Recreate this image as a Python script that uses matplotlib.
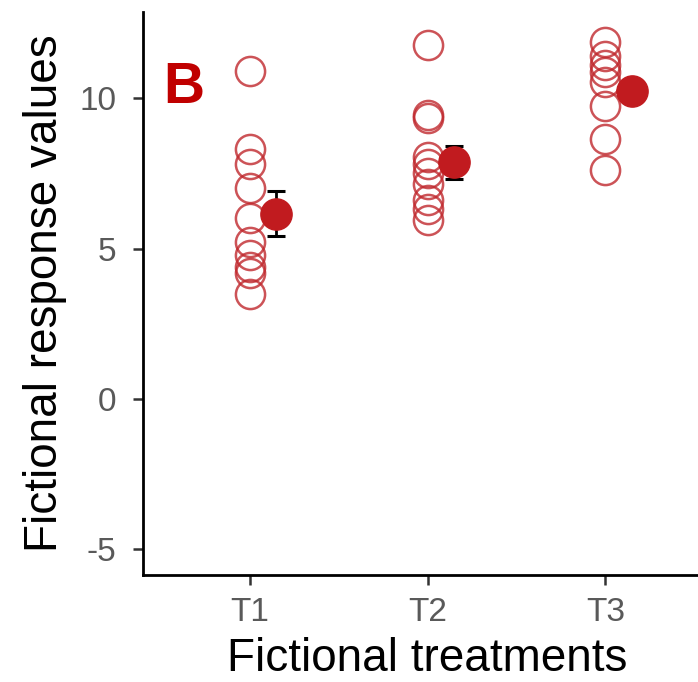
import matplotlib
matplotlib.use("Agg")
import matplotlib.pyplot as plt
import numpy as np

plt.rcParams['font.family'] = ['Liberation Sans', 'DejaVu Sans']

categories = ["T1", "T2", "T3"]
t1_values = [10.9, 8.3, 7.8, 7.0, 6.0, 5.2, 4.8, 4.4, 4.2, 3.5]
t2_values = [11.75, 9.45, 9.35, 8.05, 7.8, 7.5, 7.15, 6.6, 6.3, 5.95]
t3_values = [11.85, 11.4, 11.1, 10.85, 10.55, 9.75, 8.65, 7.6]
means = [6.16, 7.87, 10.22]
errors = [0.74, 0.55, 0.25]
yticks = [-5, 0, 5, 10]
panel_label = "B"

W, H = 698, 682
fig = plt.figure(figsize=(W / 100, H / 100), dpi=100)
left, bottom, top = 143 / W, (H - 575) / H, (H - 12) / H
right = 712 / W
ax = fig.add_axes([left, bottom, right - left, top - bottom])

open_col = '#c0282d'
fill_col = '#c11b1f'
groups = [t1_values, t2_values, t3_values]
for i, vals in enumerate(groups):
    x = np.full(len(vals), i + 1.0)
    ax.plot(x, vals, linestyle='none', marker='o', markersize=21,
            markerfacecolor='none', markeredgecolor=open_col,
            markeredgewidth=1.8, alpha=0.8, zorder=2)

xm = np.arange(1, 4) + 0.15
ax.errorbar(xm, means, yerr=errors, fmt='none', ecolor='black',
            elinewidth=2.0, capsize=6.5, capthick=2.2, zorder=3)
ax.plot(xm, means, linestyle='none', marker='o', markersize=22.5,
        markerfacecolor=fill_col, markeredgecolor=fill_col, zorder=4)

ax.set_xlim(0.4, 3.6)
ax.set_ylim(-5.85, 12.86)
ax.set_xticks([1, 2, 3])
ax.set_xticklabels(categories)
ax.set_yticks(yticks)
ax.set_yticklabels([str(v) for v in yticks])

for s in ['top', 'right']:
    ax.spines[s].set_visible(False)
for s in ['left', 'bottom']:
    ax.spines[s].set_linewidth(2.0)
    ax.spines[s].set_color('black')
ax.tick_params(axis='both', colors='#333333', labelcolor='#595959',
               labelsize=24, length=7, width=1.8)
ax.tick_params(axis='y', pad=12)
ax.tick_params(axis='x', pad=9)

ax.set_xlabel("Fictional treatments", fontsize=33, color='black', labelpad=6)
ax.set_ylabel("Fictional response values", fontsize=33, color='black', labelpad=9)

fig.text(163 / W, (H - 103) / H, panel_label, fontsize=41, fontweight='bold',
         color='#c00000', ha='left', va='baseline')

fig.savefig("out.png", dpi=100)
